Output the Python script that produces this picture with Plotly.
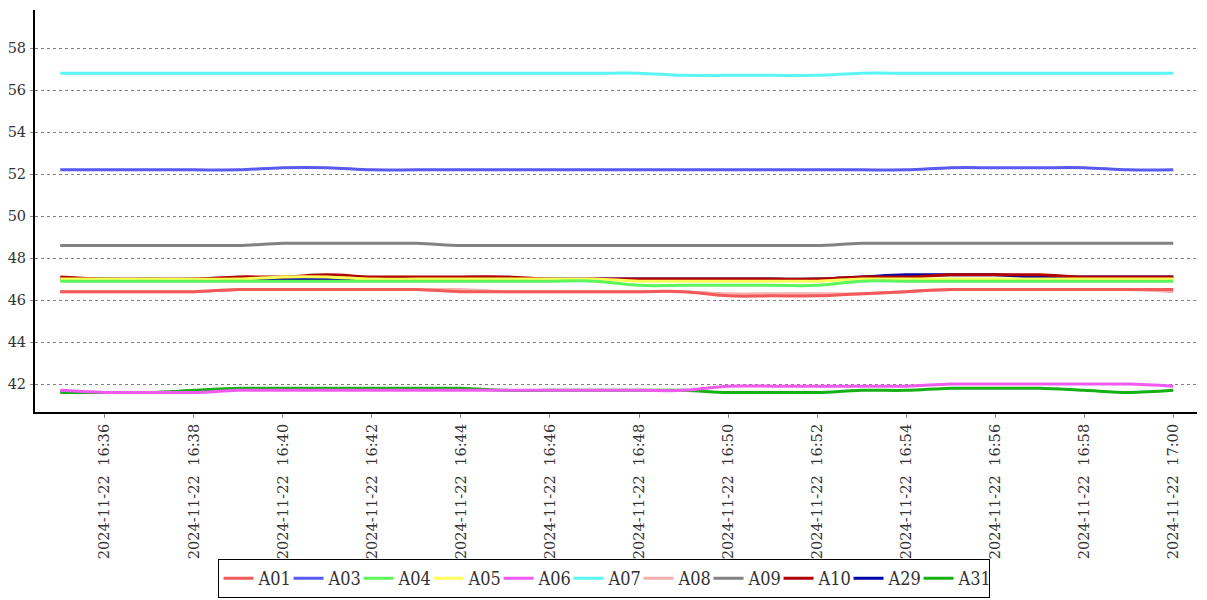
import plotly.graph_objects as go
import pandas as pd

times = pd.date_range("2024-11-22 16:35", "2024-11-22 17:00", freq="1min")

series_names = ["A01", "A03", "A04", "A05", "A06", "A07", "A08", "A09", "A10", "A29", "A31"]

A01 = [46.4, 46.4, 46.4, 46.4, 46.5, 46.5, 46.5, 46.5, 46.5, 46.4, 46.4, 46.4, 46.4,
       46.4, 46.4, 46.2, 46.2, 46.2, 46.3, 46.4, 46.5, 46.5, 46.5, 46.5, 46.5, 46.5]
A03 = [52.2, 52.2, 52.2, 52.2, 52.2, 52.3, 52.3, 52.2, 52.2, 52.2, 52.2, 52.2, 52.2,
       52.2, 52.2, 52.2, 52.2, 52.2, 52.2, 52.2, 52.3, 52.3, 52.3, 52.3, 52.2, 52.2]
A04 = [46.9, 46.9, 46.9, 46.9, 46.9, 46.9, 46.9, 46.9, 46.9, 46.9, 46.9, 46.9, 46.9,
       46.7, 46.7, 46.7, 46.7, 46.7, 46.9, 46.9, 46.9, 46.9, 46.9, 46.9, 46.9, 46.9]
A05 = [47.0, 47.0, 47.0, 47.0, 47.0, 47.1, 47.1, 47.0, 47.0, 47.0, 47.0, 47.0, 47.0,
       46.9, 46.9, 46.9, 46.9, 46.9, 47.0, 47.0, 47.0, 47.0, 47.0, 47.0, 47.0, 47.0]
A06 = [41.7, 41.6, 41.6, 41.6, 41.7, 41.7, 41.7, 41.7, 41.7, 41.7, 41.7, 41.7, 41.7,
       41.7, 41.7, 41.9, 41.9, 41.9, 41.9, 41.9, 42.0, 42.0, 42.0, 42.0, 42.0, 41.9]
A07 = [56.8, 56.8, 56.8, 56.8, 56.8, 56.8, 56.8, 56.8, 56.8, 56.8, 56.8, 56.8, 56.8,
       56.8, 56.7, 56.7, 56.7, 56.7, 56.8, 56.8, 56.8, 56.8, 56.8, 56.8, 56.8, 56.8]
A08 = [46.4, 46.4, 46.4, 46.4, 46.5, 46.5, 46.5, 46.5, 46.5, 46.5, 46.4, 46.4, 46.4,
       46.4, 46.4, 46.3, 46.3, 46.3, 46.3, 46.4, 46.5, 46.5, 46.5, 46.5, 46.5, 46.4]
A09 = [48.6, 48.6, 48.6, 48.6, 48.6, 48.7, 48.7, 48.7, 48.7, 48.6, 48.6, 48.6, 48.6,
       48.6, 48.6, 48.6, 48.6, 48.6, 48.7, 48.7, 48.7, 48.7, 48.7, 48.7, 48.7, 48.7]
A10 = [47.1, 47.0, 47.0, 47.0, 47.1, 47.1, 47.2, 47.1, 47.1, 47.1, 47.1, 47.0, 47.0,
       47.0, 47.0, 47.0, 47.0, 47.0, 47.1, 47.1, 47.2, 47.2, 47.2, 47.1, 47.1, 47.1]
A29 = [47.0, 47.0, 47.0, 47.0, 47.0, 47.0, 47.0, 47.0, 47.0, 47.0, 47.0, 47.0, 47.0,
       47.0, 47.0, 47.0, 47.0, 47.0, 47.1, 47.2, 47.2, 47.2, 47.1, 47.1, 47.1, 47.1]
A31 = [41.6, 41.6, 41.6, 41.7, 41.8, 41.8, 41.8, 41.8, 41.8, 41.8, 41.7, 41.7, 41.7,
       41.7, 41.7, 41.6, 41.6, 41.6, 41.7, 41.7, 41.8, 41.8, 41.8, 41.7, 41.6, 41.7]

values = [A01, A03, A04, A05, A06, A07, A08, A09, A10, A29, A31]
colors = ["#f25a5a", "#5a5af0", "#5cf55c", "#ffff5a", "#f05af0", "#5af5f5",
          "#f7b0b0", "#828282", "#b00000", "#0000a8", "#14b014"]

fig = go.Figure()
# first series drawn on top (reverse rendering order)
for name, vals, col in reversed(list(zip(series_names, values, colors))):
    fig.add_trace(go.Scatter(
        x=times, y=vals, name=name, mode="lines",
        line=dict(color=col, width=3, shape="spline", smoothing=1.0),
    ))

pad_left = pd.Timedelta(seconds=34)
pad_right = pd.Timedelta(seconds=32)

# the page body adds an 8px margin, so the figure is sized 8px smaller
fig.update_layout(
    width=1199, height=592,
    margin=dict(l=27, r=10, t=2, b=188, autoexpand=False),
    paper_bgcolor="white", plot_bgcolor="white",
    showlegend=True,
    legend=dict(
        orientation="h", traceorder="reversed",
        x=0.4967, xanchor="center", xref="container",
        y=0.0034, yanchor="bottom", yref="container",
        bordercolor="#000000", borderwidth=1,
        font=dict(family="DejaVu Serif Condensed, Liberation Serif", size=18, color="#333333"),
        itemwidth=30,
        entrywidth=25, entrywidthmode="pixels",
    ),
    xaxis=dict(
        range=[times[0] - pad_left, times[-1] + pad_right],
        tick0="2024-11-22 16:36", dtick=120000,
        tickformat="%Y-%m-%d\u00a0\u00a0%H:%M",
        tickangle=-90, automargin=False,
        showgrid=False, zeroline=False,
        showline=True, linecolor="#000000", linewidth=2,
        ticks="outside", ticklen=4, tickcolor="#888888",
        tickfont=dict(family="DejaVu Serif", size=14.6, color="#333333"),
    ),
    yaxis=dict(
        range=[40.67, 59.81], dtick=2, tick0=0, automargin=False,
        showgrid=True, gridcolor="#808080", griddash="dot", gridwidth=1,
        zeroline=False,
        showline=True, linecolor="#000000", linewidth=2,
        ticks="outside", ticklen=3, tickcolor="#888888",
        ticklabelstandoff=1,
        tickfont=dict(family="DejaVu Serif", size=14.5, color="#333333"),
    ),
)

fig.write_html("out.html")
